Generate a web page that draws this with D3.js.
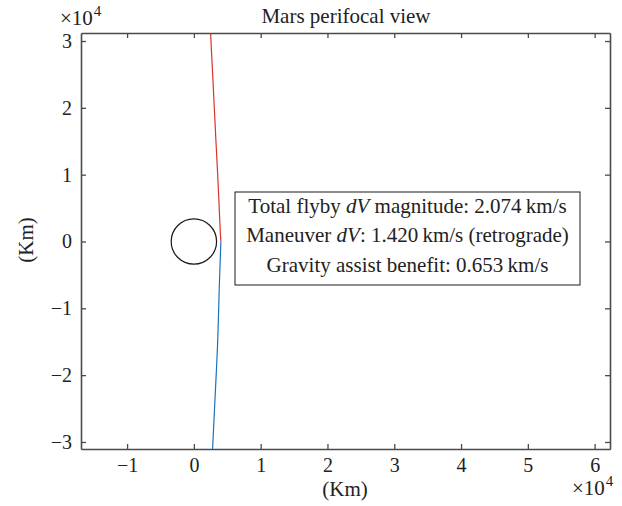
<!DOCTYPE html>
<html><head><meta charset="utf-8">
<script src="https://cdn.jsdelivr.net/npm/d3@7"></script>
<style>
body{margin:0;background:#fff;}
text{font-family:"Liberation Serif","DejaVu Serif",serif;fill:#222;}
</style></head>
<body><svg id="c" width="622" height="506"></svg>
<script>
// Data (km)
const incomingX = [2500, 2890, 3290, 3640, 3940, 4040];
const incomingY = [31150, 23420, 15290, 8450, 1720, 0];
const outgoingX = [4040, 3790, 3550, 3190, 2800];
const outgoingY = [0, -7260, -15340, -22970, -31050];
const marsRadius = 3396;
const xTicks = [-10000, 0, 10000, 20000, 30000, 40000, 50000, 60000];
const yTicks = [-30000, -20000, -10000, 0, 10000, 20000, 30000];
const infoLines = [
  [["Total flyby ", false], ["dV", true], [" magnitude: 2.074\u2009km/s", false]],
  [["Maneuver ", false], ["dV", true], [": 1.420\u2009km/s (retrograde)", false]],
  [["Gravity assist benefit: 0.653\u2009km/s", false]]
];

const svg = d3.select("#c");
const L = 81, R = 610, T = 33, B = 449;
const x = d3.scaleLinear().domain([-16900, 62300]).range([L, R]);
const y = d3.scaleLinear().domain([-31050, 31200]).range([B, T]);
const fmt = v => (v / 1e4).toString().replace("-", "\u2212");
const axisColor = "#4a4a4a";
const tickFont = 20, textFont = 21;

// axes
const gx = svg.append("g").attr("transform", `translate(0,${B})`)
  .call(d3.axisBottom(x).tickValues(xTicks).tickFormat(fmt).tickSizeInner(-5).tickSizeOuter(0));
gx.selectAll(".tick text").attr("y", 23).attr("dy", 0);
const gxt = svg.append("g").attr("transform", `translate(0,${T})`)
  .call(d3.axisTop(x).tickValues(xTicks).tickFormat("").tickSizeInner(-5).tickSizeOuter(0));
const gy = svg.append("g").attr("transform", `translate(${L},0)`)
  .call(d3.axisLeft(y).tickValues(yTicks).tickFormat(fmt).tickSizeInner(-5).tickSizeOuter(0).tickPadding(9));
const gyr = svg.append("g").attr("transform", `translate(${R},0)`)
  .call(d3.axisRight(y).tickValues(yTicks).tickFormat("").tickSizeInner(-5).tickSizeOuter(0));
[gx, gxt, gy, gyr].forEach(g => {
  g.attr("font-family", null);
  g.select(".domain").attr("stroke", axisColor).attr("stroke-width", 1.6);
  g.selectAll(".tick line").attr("stroke", axisColor).attr("stroke-width", 1.3);
  g.selectAll(".tick text").attr("font-size", tickFont).attr("fill", "#222");
});

// Mars
svg.append("circle").attr("cx", x(0)).attr("cy", y(0)).attr("r", x(marsRadius) - x(0))
  .attr("fill", "none").attr("stroke", "#1a1a1a").attr("stroke-width", 1.2);

// trajectory
const line = d3.line().x(d => x(d[0])).y(d => y(d[1])).curve(d3.curveCatmullRom);
svg.append("path").datum(incomingX.map((v, i) => [v, incomingY[i]]))
  .attr("d", line).attr("fill", "none").attr("stroke", "#d9342b").attr("stroke-width", 1.2);
svg.append("path").datum(outgoingX.map((v, i) => [v, outgoingY[i]]))
  .attr("d", line).attr("fill", "none").attr("stroke", "#1a72bb").attr("stroke-width", 1.2);

// text box
svg.append("rect").attr("x", 235).attr("y", 192).attr("width", 345).attr("height", 93)
  .attr("fill", "#fff").attr("stroke", "#1a1a1a").attr("stroke-width", 1);
infoLines.forEach((ln, i) => {
  const t = svg.append("text").attr("x", 407.5).attr("y", 212.5 + i * 29.5)
    .attr("text-anchor", "middle").attr("font-size", textFont);
  ln.forEach(([s, it]) => t.append("tspan").text(s).attr("font-style", it ? "italic" : "normal"));
});

// title & labels
svg.append("text").attr("x", 346).attr("y", 23).attr("text-anchor", "middle").attr("font-size", textFont).text("Mars perifocal view");
svg.append("text").attr("x", 345).attr("y", 496).attr("text-anchor", "middle").attr("font-size", textFont).text("(Km)");
svg.append("text").attr("transform", "translate(33,240) rotate(-90)").attr("text-anchor", "middle").attr("font-size", textFont).text("(Km)");

function pow(xp, yp) {
  const t = svg.append("text").attr("x", xp).attr("y", yp).attr("font-size", 21);
  t.append("tspan").text("\u00d710");
  t.append("tspan").attr("dx", 1).attr("dy", -9).attr("font-size", 15).text("4");
}
pow(60, 25);
pow(572, 495);
</script></body></html>
